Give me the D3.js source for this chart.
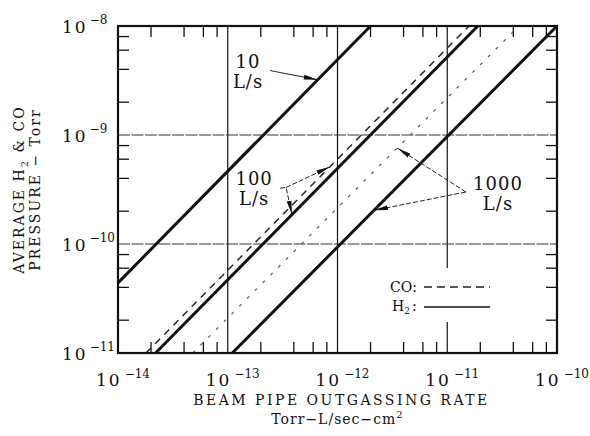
<!DOCTYPE html>
<html>
<head>
<meta charset="utf-8">
<script src="https://cdn.jsdelivr.net/npm/d3@7"></script>
<style>
  body { margin: 0; background: #fff; }
  text { font-family: "DejaVu Serif", serif; fill: #111; }
</style>
</head>
<body>
<svg id="chart"></svg>
<script>
const width = 590;
const height = 436;
const plotLeft = 118, plotRight = 557, plotTop = 26, plotBottom = 353;

// axis ticks
const xTicks = [1e-14, 1e-13, 1e-12, 1e-11, 1e-10];
const xTickExp = ["−14", "−13", "−12", "−11", "−10"];
const yTicks = [1e-11, 1e-10, 1e-9, 1e-8];
const yTickExp = ["−11", "−10", "−9", "−8"];
const minorMult = [2, 4, 6, 8];

// H2 curves (10, 100, 1000 L/s): end points
const h2Speeds = ["10", "100", "1000"];
const h2Rate = [[1e-14, 2.0e-12], [2.2e-14, 1.9e-11], [1.1e-13, 1e-10]];
const h2Pressure = [[4.4e-11, 1e-8], [1e-11, 1e-8], [1e-11, 1e-8]];

// CO curves (100, 1000 L/s)
const coSpeeds = ["100", "1000"];
const coRate = [[1.8e-14, 1.58e-11], [4.8e-14, 4.5e-11]];
const coPressure = [[1e-11, 1e-8], [1e-11, 1e-8]];

// annotation labels (rate, pressure of first line baseline centre)
const labelText = [["10", "L/s"], ["100", "L/s"], ["1000", "L/s"]];
const labelRate = [1.53e-13, 1.74e-13, 2.9e-11];
const labelPressure = [4.1e-9, 3.5e-10, 3.1e-10];

const svg = d3.select("#chart").attr("width", width).attr("height", height);

const x = d3.scaleLog().domain([1e-14, 1e-10]).range([plotLeft, plotRight]);
const y = d3.scaleLog().domain([1e-11, 1e-8]).range([plotBottom, plotTop]);

// point on a straight log-log segment at a given rate
function pointOn(rates, press, r) {
  const t = (Math.log10(r) - Math.log10(rates[0])) / (Math.log10(rates[1]) - Math.log10(rates[0]));
  const lp = Math.log10(press[0]) + t * (Math.log10(press[1]) - Math.log10(press[0]));
  return [x(r), y(Math.pow(10, lp))];
}

const defs = svg.append("defs");
defs.append("marker")
  .attr("id", "head")
  .attr("viewBox", "0 0 14 6")
  .attr("refX", 14).attr("refY", 3)
  .attr("markerWidth", 14).attr("markerHeight", 6)
  .attr("markerUnits", "userSpaceOnUse")
  .attr("orient", "auto")
  .append("path").attr("d", "M0,0.6 L14,3 L0,5.4 Z").attr("fill", "#111");

// grid: vertical solid, horizontal fine dashed
svg.append("g").selectAll("line").data(xTicks.slice(1, -1)).join("line")
  .attr("x1", d => x(d)).attr("x2", d => x(d))
  .attr("y1", plotTop).attr("y2", plotBottom)
  .attr("stroke", "#111").attr("stroke-width", 1.2);
svg.append("g").selectAll("line").data(yTicks.slice(1, -1)).join("line")
  .attr("x1", plotLeft).attr("x2", plotRight)
  .attr("y1", d => y(d)).attr("y2", d => y(d))
  .attr("stroke", "#333").attr("stroke-width", 1)
  .attr("stroke-dasharray", "12,1.5");

// minor ticks, inward on all sides
const xMinor = [], yMinor = [];
xTicks.slice(0, -1).forEach(d => minorMult.forEach(m => xMinor.push(d * m)));
yTicks.slice(0, -1).forEach(d => minorMult.forEach(m => yMinor.push(d * m)));
const tickLen = 11;
const ticks = svg.append("g").attr("stroke", "#111").attr("stroke-width", 1.3);
ticks.selectAll(".tb").data(xMinor).join("line").attr("class", "tb")
  .attr("x1", d => x(d)).attr("x2", d => x(d))
  .attr("y1", plotBottom).attr("y2", plotBottom - tickLen);
ticks.selectAll(".tt").data(xMinor).join("line").attr("class", "tt")
  .attr("x1", d => x(d)).attr("x2", d => x(d))
  .attr("y1", plotTop).attr("y2", plotTop + tickLen);
ticks.selectAll(".tl").data(yMinor).join("line").attr("class", "tl")
  .attr("x1", plotLeft).attr("x2", plotLeft + tickLen)
  .attr("y1", d => y(d)).attr("y2", d => y(d));
ticks.selectAll(".tr").data(yMinor).join("line").attr("class", "tr")
  .attr("x1", plotRight).attr("x2", plotRight - tickLen)
  .attr("y1", d => y(d)).attr("y2", d => y(d));

// legend background hides the grid line behind it
svg.append("rect")
  .attr("x", 384).attr("y", 268).attr("width", 112).attr("height", 54)
  .attr("fill", "#fff");

// curves
const lineGen = d3.line().x(d => x(d[0])).y(d => y(d[1]));
const h2Data = h2Speeds.map((s, i) => h2Rate[i].map((r, k) => [r, h2Pressure[i][k]]));
const coData = coSpeeds.map((s, i) => coRate[i].map((r, k) => [r, coPressure[i][k]]));

svg.append("g").selectAll("path").data(coData).join("path")
  .attr("d", lineGen)
  .attr("fill", "none")
  .attr("stroke", (d, i) => i === 0 ? "#222" : "#555")
  .attr("stroke-width", (d, i) => i === 0 ? 1.5 : 1.2)
  .attr("stroke-dasharray", (d, i) => i === 0 ? "7,6" : "3,8");

svg.append("g").selectAll("path").data(h2Data).join("path")
  .attr("d", lineGen)
  .attr("fill", "none")
  .attr("stroke", "#111")
  .attr("stroke-width", 3);

// frame
svg.append("rect")
  .attr("x", plotLeft).attr("y", plotTop)
  .attr("width", plotRight - plotLeft).attr("height", plotBottom - plotTop)
  .attr("fill", "none").attr("stroke", "#111").attr("stroke-width", 2.2);

// tick labels
const xl = svg.append("g").selectAll("text").data(xTicks).join("text")
  .attr("x", d => x(d) - 22).attr("y", 386)
  .style("font-size", "17px");
xl.append("tspan").text("10").attr("letter-spacing", "2px");
xl.append("tspan").text((d, i) => xTickExp[i])
  .attr("dx", 3).attr("dy", -8).style("font-size", "12px");

const yl = svg.append("g").selectAll("text").data(yTicks).join("text")
  .attr("x", 62).attr("y", d => y(d) + 7)
  .style("font-size", "17px");
yl.append("tspan").text("10").attr("letter-spacing", "2px");
yl.append("tspan").text((d, i) => yTickExp[i])
  .attr("dx", 2).attr("dy", -9).style("font-size", "12px");

// axis titles
svg.append("text")
  .attr("x", (plotLeft + plotRight) / 2 + 4).attr("y", 405)
  .attr("text-anchor", "middle")
  .style("font-size", "14px").attr("letter-spacing", "2.5px")
  .text("BEAM PIPE OUTGASSING RATE");
const xUnit = svg.append("text")
  .attr("x", (plotLeft + plotRight) / 2).attr("y", 424)
  .attr("text-anchor", "middle")
  .style("font-size", "14px").attr("letter-spacing", "1px");
xUnit.append("tspan").text("Torr−L/sec−cm");
xUnit.append("tspan").text("2").attr("dy", -6).style("font-size", "10px");

const yTitle = svg.append("g")
  .attr("transform", `translate(24,${(plotTop + plotBottom) / 2}) rotate(-90)`);
const yt1 = yTitle.append("text").attr("text-anchor", "middle").attr("y", 0)
  .style("font-size", "14px").attr("letter-spacing", "2px");
yt1.append("tspan").text("AVERAGE H");
yt1.append("tspan").text("2").attr("dy", 4).style("font-size", "10px");
yt1.append("tspan").text(" & CO").attr("dy", -4);
yTitle.append("text").attr("text-anchor", "middle").attr("y", 16)
  .style("font-size", "14px").attr("letter-spacing", "2px")
  .text("PRESSURE − Torr");

// annotation labels
labelText.forEach((lines, i) => {
  const t = svg.append("text")
    .attr("x", x(labelRate[i])).attr("y", y(labelPressure[i]))
    .attr("text-anchor", "middle").style("font-size", "18px")
    .attr("letter-spacing", "1px");
  lines.forEach((s, k) => {
    t.append("tspan").text(s).attr("x", x(labelRate[i])).attr("dy", k === 0 ? 0 : 20);
  });
});

// annotation arrows: tail points in data units, tip on a curve
const arrows = [
  { tail: [[2.43e-13, 3.9e-9]], rates: h2Rate[0], press: h2Pressure[0], at: 6.6e-13, dash: null },
  { tail: [[3.0e-13, 3.25e-10], [3.4e-13, 3.3e-10]], rates: h2Rate[1], press: h2Pressure[1], at: 3.85e-13, dash: "5,2" },
  { tail: [[3.4e-13, 3.3e-10]], rates: coRate[0], press: coPressure[0], at: 8.55e-13, dash: "5,2" },
  { tail: [[1.48e-11, 3.0e-10]], rates: coRate[1], press: coPressure[1], at: 3.5e-12, dash: "5,2" },
  { tail: [[1.48e-11, 3.0e-10]], rates: h2Rate[2], press: h2Pressure[2], at: 2.15e-12, dash: "5,2" }
];
svg.append("g").selectAll("path").data(arrows).join("path")
  .attr("d", a => {
    const pts = a.tail.map(p => [x(p[0]), y(p[1])]);
    pts.push(pointOn(a.rates, a.press, a.at));
    return d3.line()(pts);
  })
  .attr("fill", "none").attr("stroke", "#222").attr("stroke-width", 1)
  .attr("stroke-dasharray", a => a.dash)
  .attr("marker-end", "url(#head)");

// legend
const legend = svg.append("g");
legend.append("text").attr("x", 390).attr("y", 292).style("font-size", "14px").text("CO:");
legend.append("line").attr("x1", 424).attr("x2", 490).attr("y1", 287).attr("y2", 287)
  .attr("stroke", "#222").attr("stroke-width", 1.5).attr("stroke-dasharray", "8,5");
const h2Label = legend.append("text").attr("x", 392).attr("y", 311).style("font-size", "14px");
h2Label.append("tspan").text("H");
h2Label.append("tspan").text("2").attr("dy", 3).style("font-size", "9px");
h2Label.append("tspan").text(":").attr("dx", 2).attr("dy", -3);
legend.append("line").attr("x1", 424).attr("x2", 490).attr("y1", 307).attr("y2", 307)
  .attr("stroke", "#111").attr("stroke-width", 1.5);
</script>
</body>
</html>
